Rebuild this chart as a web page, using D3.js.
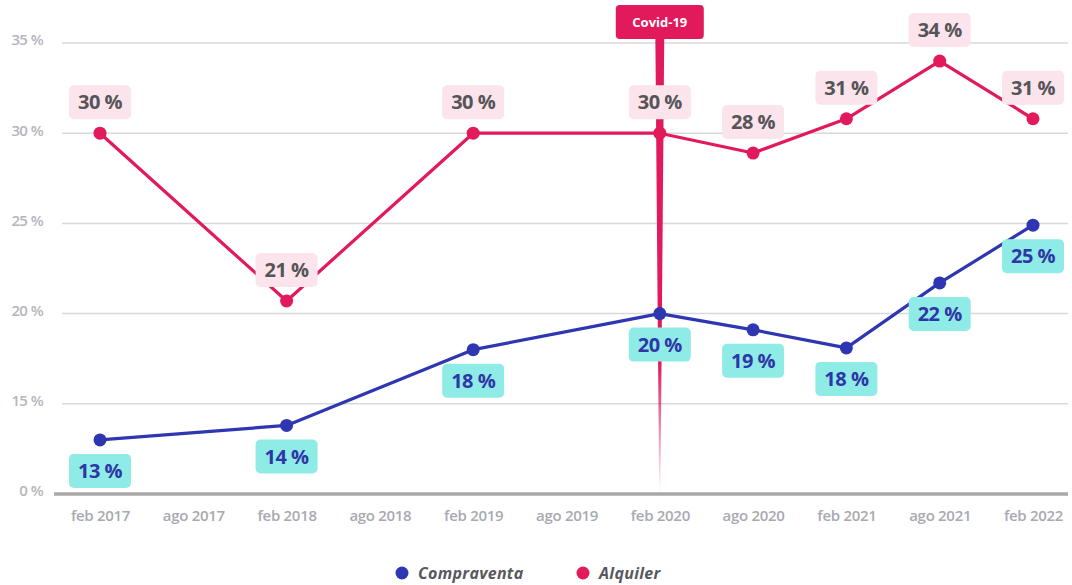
<!DOCTYPE html>
<html>
<head>
<meta charset="utf-8">
<script src="https://cdn.jsdelivr.net/npm/d3@7"></script>
<style>
  body { margin: 0; background: #fff; }
  svg { font-family: "Open Sans", "DejaVu Sans", sans-serif; }
</style>
</head>
<body>
<svg id="chart" width="1072" height="585"></svg>
<script>
// periodos del eje x
var periodos = ["feb 2017", "ago 2017", "feb 2018", "ago 2018", "feb 2019", "ago 2019",
                "feb 2020", "ago 2020", "feb 2021", "ago 2021", "feb 2022"];

var fechas = ["feb 2017", "feb 2018", "feb 2019", "feb 2020", "ago 2020", "feb 2021", "ago 2021", "feb 2022"];

var alquiler = [30, 20.7, 30, 30, 28.9, 30.8, 34, 30.8];
var alquilerEtiquetas = ["30 %", "21 %", "30 %", "30 %", "28 %", "31 %", "34 %", "31 %"];

var compraventa = [13, 13.8, 18, 20, 19.1, 18.1, 21.7, 24.9];
var compraventaEtiquetas = ["13 %", "14 %", "18 %", "20 %", "19 %", "18 %", "22 %", "25 %"];

// el eje empieza en 10 pero se rotula como "0 %"
var yTicks = [10, 15, 20, 25, 30, 35];
var covidFecha = "feb 2020";

var svg = d3.select("#chart");

var x = d3.scalePoint().domain(periodos).range([100, 1033]);
var y = d3.scaleLinear().domain([10, 35]).range([494, 43]);

var rosa = "#e2195b", azul = "#2e36b2";

// grid
svg.append("g")
  .selectAll("line")
  .data(yTicks.filter(function(d) { return d > 10; }))
  .enter().append("line")
  .attr("x1", 62).attr("x2", 1068)
  .attr("y1", function(d) { return y(d); })
  .attr("y2", function(d) { return y(d); })
  .attr("stroke", "#d9d9d9")
  .attr("stroke-width", 1.5);

svg.append("line")
  .attr("x1", 54).attr("x2", 1068)
  .attr("y1", y(10)).attr("y2", y(10))
  .attr("stroke", "#a9a9a9")
  .attr("stroke-width", 3.5);

// eje y
var yAxis = svg.append("g")
  .attr("transform", "translate(46,-3)")
  .call(d3.axisLeft(y).tickValues(yTicks).tickSize(0)
    .tickFormat(function(d) { return (d === 10 ? 0 : d) + " %"; }));
yAxis.select(".domain").remove();
yAxis.selectAll("text")
  .attr("font-size", "15px")
  .attr("font-weight", 600)
  .attr("fill", "#b5b5bd")
  .attr("font-family", "'Open Sans', sans-serif")
  .attr("letter-spacing", "-0.6px");

// eje x
var xAxis = svg.append("g")
  .attr("transform", "translate(0," + (y(10) + 11) + ")")
  .call(d3.axisBottom(x).tickSize(0));
xAxis.select(".domain").remove();
xAxis.selectAll("text")
  .attr("dy", "0.85em")
  .attr("font-size", "15px")
  .attr("font-weight", 600)
  .attr("fill", "#a9a9b1")
  .attr("font-family", "'Open Sans', sans-serif")
  .attr("letter-spacing", "-0.3px");

// linea covid
var defs = svg.append("defs");
var grad = defs.append("linearGradient")
  .attr("id", "covidGrad")
  .attr("x1", 0).attr("x2", 0).attr("y1", 0).attr("y2", 1);
grad.append("stop").attr("offset", "0%").attr("stop-color", rosa).attr("stop-opacity", 1);
grad.append("stop").attr("offset", "72%").attr("stop-color", rosa).attr("stop-opacity", 1);
grad.append("stop").attr("offset", "100%").attr("stop-color", rosa).attr("stop-opacity", 0);

var cx = x(covidFecha);
svg.append("path")
  .attr("d", "M" + (cx - 4.5) + ",30 L" + (cx + 4.5) + ",30 L" + (cx + 0.6) + "," + y(10) +
             " L" + (cx - 0.6) + "," + y(10) + " Z")
  .attr("fill", "url(#covidGrad)");

// lineas
var line = d3.line()
  .x(function(d) { return x(d.fecha); })
  .y(function(d) { return y(d.valor); });

function serie(valores) {
  return fechas.map(function(f, i) { return { fecha: f, valor: valores[i] }; });
}

var series = [
  { nombre: "Alquiler", color: rosa, datos: serie(alquiler), etiquetas: alquilerEtiquetas,
    dy: -31, caja: "#fce4ec", texto: "#555558" },
  { nombre: "Compraventa", color: azul, datos: serie(compraventa), etiquetas: compraventaEtiquetas,
    dy: 31, caja: "#8eebe5", texto: "#2e36a8" }
];

series.forEach(function(s) {
  svg.append("path")
    .datum(s.datos)
    .attr("d", line)
    .attr("fill", "none")
    .attr("stroke", s.color)
    .attr("stroke-width", 3.2)
    .attr("stroke-linejoin", "round");

  svg.append("g").selectAll("circle")
    .data(s.datos)
    .enter().append("circle")
    .attr("cx", function(d) { return x(d.fecha); })
    .attr("cy", function(d) { return y(d.valor); })
    .attr("r", 6.5)
    .attr("fill", s.color);
});

// etiquetas
series.forEach(function(s) {
  var g = svg.append("g").selectAll("g")
    .data(s.datos)
    .enter().append("g")
    .attr("transform", function(d) {
      return "translate(" + x(d.fecha) + "," + (y(d.valor) + s.dy) + ")";
    });
  g.append("rect")
    .attr("x", -31).attr("y", -17)
    .attr("width", 62).attr("height", 34)
    .attr("rx", 5)
    .attr("fill", s.caja);
  g.append("text")
    .attr("text-anchor", "middle")
    .attr("dy", "0.36em")
    .attr("font-size", "20px")
    .attr("font-weight", 700)
    .attr("letter-spacing", "-0.5px")
    .attr("fill", s.texto)
    .text(function(d, i) { return s.etiquetas[i]; });
});

// caja covid
var cg = svg.append("g").attr("transform", "translate(" + cx + ",22)");
cg.append("rect")
  .attr("x", -44).attr("y", -17)
  .attr("width", 88).attr("height", 34)
  .attr("rx", 4)
  .attr("fill", rosa);
cg.append("text")
  .attr("text-anchor", "middle")
  .attr("dy", "0.36em")
  .attr("font-size", "13px")
  .attr("font-weight", 700)
  .attr("fill", "#fff")
  .text("Covid-19");

// leyenda
var leyenda = [
  { nombre: "Compraventa", color: azul, x: 402 },
  { nombre: "Alquiler", color: rosa, x: 583 }
];
var lg = svg.append("g").selectAll("g")
  .data(leyenda)
  .enter().append("g")
  .attr("transform", function(d) { return "translate(" + d.x + ",573)"; });
lg.append("circle").attr("r", 6.5).attr("fill", function(d) { return d.color; });
lg.append("text")
  .attr("x", 16)
  .attr("dy", "0.35em")
  .attr("font-size", "16px")
  .attr("font-weight", 700)
  .attr("font-style", "italic")
  .attr("letter-spacing", "0.3px")
  .attr("fill", "#58585f")
  .text(function(d) { return d.nombre; });
</script>
</body>
</html>
